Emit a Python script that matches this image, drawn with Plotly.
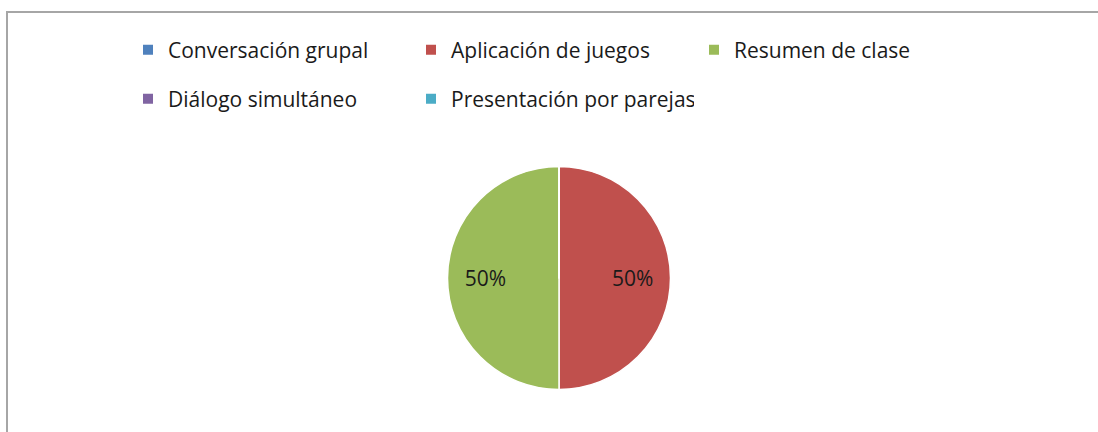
import plotly.graph_objects as go

categories = ["Conversación grupal", "Aplicación de juegos", "Resumen de clase",
              "Diálogo simultáneo", "Presentación por parejas"]
values = [0, 50, 50, 0, 0]
colors = ["#4F81BD", "#C0504D", "#9BBB59", "#8064A2", "#4BACC6"]
legend_rows = ["legend", "legend", "legend", "legend2", "legend2"]

W, H = 1098, 432
cx, cy, half = 559, 278, 111.5
pie_domain = dict(x=[(cx - half) / W, (cx + half) / W],
                  y=[(H - cy - half) / H, (H - cy + half) / H])

fig = go.Figure()
# full pie (fill)
fig.add_trace(go.Pie(
    labels=categories, values=values, sort=False, direction="clockwise", rotation=0,
    marker=dict(colors=colors, line=dict(color="white", width=1.5)),
    textinfo="none", showlegend=False, hoverinfo="skip",
    domain=pie_domain,
))
# transparent ring on top carrying the labels (places them toward the outer edge)
fig.add_trace(go.Pie(
    labels=categories, values=values, sort=False, direction="clockwise", rotation=0,
    hole=0.32,
    marker=dict(colors=["rgba(0,0,0,0)"] * len(categories), line=dict(width=0)),
    textinfo="percent", texttemplate="%{percent:.0%}", textposition="inside",
    insidetextorientation="horizontal",
    textfont=dict(size=21, color="#1a1a1a", family="Open Sans"),
    showlegend=False,
    domain=pie_domain,
))
for cat, col, lg in zip(categories, colors, legend_rows):
    fig.add_trace(go.Scatter(x=[None], y=[None], mode="markers", name=cat,
                             marker=dict(symbol="square", size=10, color=col),
                             legend=lg, showlegend=True))

legend_common = dict(orientation="h", xanchor="left", yanchor="middle",
                     font=dict(size=21, color="#1a1a1a", family="Open Sans"),
                     entrywidth=238, entrywidthmode="pixels",
                     bgcolor="rgba(0,0,0,0)", itemclick=False)
fig.update_layout(
    width=W, height=H, margin=dict(l=0, r=0, t=0, b=0),
    paper_bgcolor="white", plot_bgcolor="white",
    xaxis=dict(visible=False), yaxis=dict(visible=False),
    legend=dict(x=128 / W, y=1 - 50 / H, **legend_common),
    legend2=dict(x=128 / W, y=1 - 99 / H, **legend_common),
    shapes=[dict(type="rect", xref="paper", yref="paper",
                 x0=7 / W, x1=1.1, y0=-0.1, y1=1 - 12 / H,
                 line=dict(color="#a6a6a6", width=2))],
)
fig.write_html("out.html", config={"displayModeBar": False},
               post_script="document.body.style.margin='0';")
